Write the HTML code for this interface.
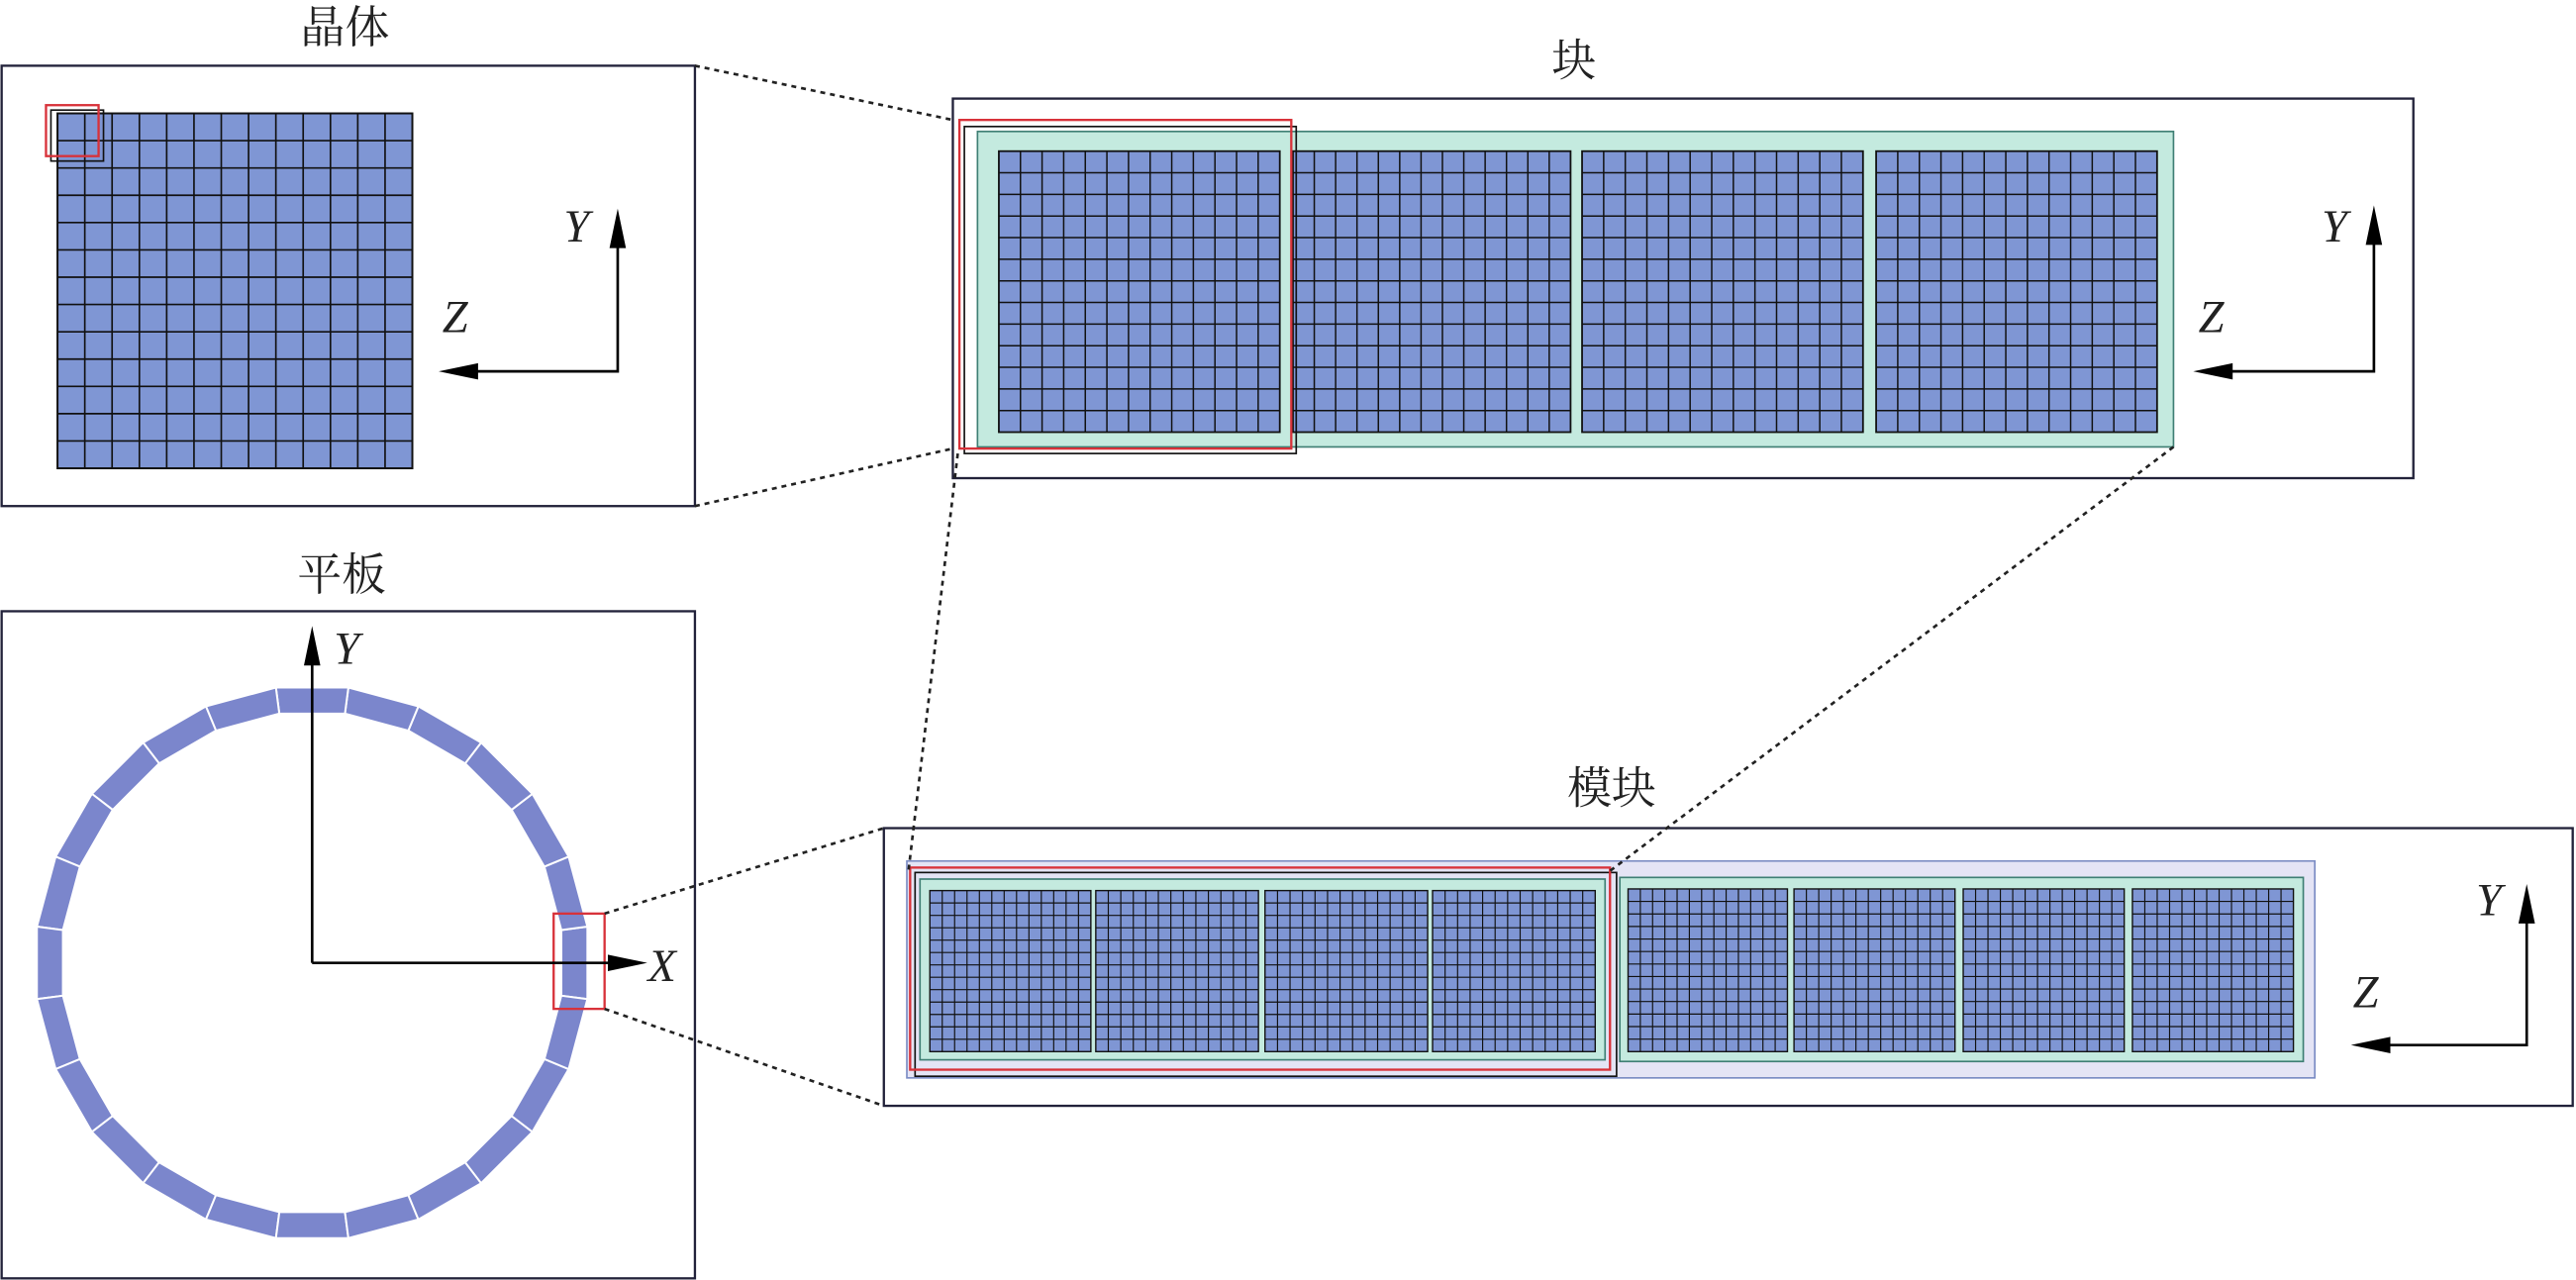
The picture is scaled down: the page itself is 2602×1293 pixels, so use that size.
<!DOCTYPE html>
<html><head><meta charset="utf-8"><style>
html,body{margin:0;padding:0;background:#fff;}
svg{display:block;}
.t{font-family:"Liberation Serif","Noto Serif CJK SC","Noto Sans CJK SC",serif;font-size:27px;fill:#222;text-anchor:middle;}
.ax{font-family:"Liberation Serif",serif;font-style:italic;font-size:28px;fill:#222;text-anchor:middle;}
</style></head><body>
<svg id="s" width="2602" height="1293" viewBox="0 0 1568 779" preserveAspectRatio="none" xmlns="http://www.w3.org/2000/svg">
<text class="t" x="210" y="26">晶体</text>
<text class="t" x="958" y="46">块</text>
<text class="t" x="208" y="359">平板</text>
<text class="t" x="981" y="489">模块</text>
<rect x="1" y="40" width="422" height="268" fill="none" stroke="#22223a" stroke-width="1.4"/>
<rect x="580" y="60" width="889" height="231" fill="none" stroke="#22223a" stroke-width="1.4"/>
<rect x="1" y="372" width="422" height="406" fill="none" stroke="#22223a" stroke-width="1.4"/>
<rect x="538" y="504" width="1028" height="169" fill="none" stroke="#22223a" stroke-width="1.4"/>
<rect x="595" y="80" width="728" height="192" fill="#c4eadf" stroke="#3f7f74" stroke-width="1"/>
<rect x="552" y="524" width="857" height="132" fill="#e4e4f5" stroke="#7b8cc4" stroke-width="1"/>
<rect x="560" y="535" width="417" height="110" fill="#c4eadf" stroke="#3f7f74" stroke-width="1"/>
<rect x="986" y="534" width="416" height="112" fill="#c4eadf" stroke="#3f7f74" stroke-width="1"/>
<g id="grids"></g>
<g id="ring"></g>
<rect x="31" y="67" width="32" height="31" fill="none" stroke="#111" stroke-width="1"/>
<rect x="28" y="64" width="32" height="31" fill="none" stroke="#d8323a" stroke-width="1.4"/>
<rect x="587" y="77" width="202" height="199" fill="none" stroke="#111" stroke-width="1"/>
<rect x="584" y="73" width="202" height="200" fill="none" stroke="#d8323a" stroke-width="1.4"/>
<rect x="557" y="531" width="427" height="124" fill="none" stroke="#111" stroke-width="1"/>
<rect x="554" y="528" width="426" height="123" fill="none" stroke="#d8323a" stroke-width="1.4"/>
<rect x="337" y="556" width="31" height="58" fill="none" stroke="#d8323a" stroke-width="1.4"/>
<g stroke="#222" stroke-width="1.6" stroke-dasharray="3,3" fill="none">
<line x1="423" y1="40" x2="580" y2="73"/>
<line x1="423" y1="308" x2="580" y2="273"/>
<line x1="583" y1="276" x2="553" y2="530"/>
<line x1="1323" y1="272" x2="980" y2="530"/>
<line x1="368" y1="556" x2="538" y2="504"/>
<line x1="368" y1="614" x2="538" y2="673"/>
</g>
<g stroke="#000" stroke-width="1.6" fill="none">
<polyline points="376,140 376,226 282,226"/>
<polyline points="1445,139 1445,226 1350,226"/>
<polyline points="1538,552 1538,636 1446,636"/>
<line x1="190" y1="586" x2="190" y2="396"/>
<line x1="190" y1="586" x2="380" y2="586"/>
</g>
<g fill="#000">
<path d="M376,127 L371,151 L381,151 Z"/><path d="M267,226 L291,221 L291,231 Z"/>
<path d="M1445,125 L1440,149 L1450,149 Z"/><path d="M1335,226 L1359,221 L1359,231 Z"/>
<path d="M1538,538 L1533,562 L1543,562 Z"/><path d="M1431,636 L1455,631 L1455,641 Z"/>
<path d="M190,381 L185,405 L195,405 Z"/><path d="M394,586 L370,581 L370,591 Z"/>
</g>
<text class="ax" x="351" y="147">Y</text><text class="ax" x="277" y="202">Z</text>
<text class="ax" x="1421" y="147">Y</text><text class="ax" x="1346" y="202">Z</text>
<text class="ax" x="1515" y="557">Y</text><text class="ax" x="1440" y="613">Z</text>
<text class="ax" x="211" y="404">Y</text><text class="ax" x="403" y="597">X</text>
</svg>
<script>
var NS="http://www.w3.org/2000/svg";
function el(p,n,a){var e=document.createElementNS(NS,n);for(var k in a)e.setAttribute(k,a[k]);p.appendChild(e);return e;}
var G=document.getElementById("grids");
function grid(x0,y0,x1,y1,n,sw){
  el(G,"rect",{x:x0,y:y0,width:x1-x0,height:y1-y0,fill:"#7f96d4",stroke:"#111","stroke-width":sw*1.2});
  var d="";
  for(var i=1;i<n;i++){var x=x0+(x1-x0)*i/n;d+="M"+x+","+y0+"V"+y1;var y=y0+(y1-y0)*i/n;d+="M"+x0+","+y+"H"+x1;}
  el(G,"path",{d:d,stroke:"#111","stroke-width":sw,fill:"none"});
}
grid(35,69,251,285,13,1.0);
[[608,779],[787,956],[963,1134],[1142,1313]].forEach(function(g){grid(g[0],92,g[1],263,13,0.9);});
[[566,664],[667,766],[770,869],[872,971]].forEach(function(g){grid(g[0],542,g[1],640,13,0.7);});
[[991,1088],[1092,1190],[1195,1293],[1298,1396]].forEach(function(g){grid(g[0],541,g[1],640,13,0.7);});
var R=document.getElementById("ring");
var cx=190,cy=586,ro=169,ri=153;
for(var k=0;k<24;k++){
  var c=k*15*Math.PI/180,a1=c-7.5*Math.PI/180,a2=c+7.5*Math.PI/180;
  var p=[[cx+ro*Math.cos(a1),cy-ro*Math.sin(a1)],[cx+ro*Math.cos(a2),cy-ro*Math.sin(a2)],[cx+ri*Math.cos(a2),cy-ri*Math.sin(a2)],[cx+ri*Math.cos(a1),cy-ri*Math.sin(a1)]];
  el(R,"polygon",{points:p.map(function(q){return q[0].toFixed(2)+","+q[1].toFixed(2);}).join(" "),fill:"#7b86cc",stroke:"#fff","stroke-width":1.2});
}
</script>
</body></html>
